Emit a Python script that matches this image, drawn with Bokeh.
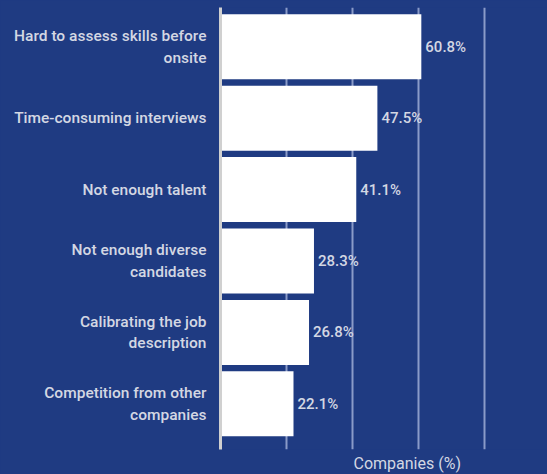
from bokeh.plotting import figure
from bokeh.models import Range1d, FixedTicker, Title, ColumnDataSource
from bokeh.core.properties import value
from bokeh.embed import file_html
from bokeh.resources import INLINE

categories = ["Hard to assess skills before\nonsite", "Time-consuming interviews",
              "Not enough talent", "Not enough diverse\ncandidates",
              "Calibrating the job\ndescription", "Competition from other\ncompanies"]
values = [60.8, 47.5, 41.1, 28.3, 26.8, 22.1]
value_labels = ["60.8%", "47.5%", "41.1%", "28.3%", "26.8%", "22.1%"]
x_ticks = [0, 20, 40, 60, 80]

BG = "#1f3b82"
TXT = "#d3d7e3"
FONT = "Roboto Medium"

idx = list(range(len(categories)))
src = ColumnDataSource(dict(y=idx, v=values, lab=value_labels))

p = figure(width=547, height=474, output_backend="svg", toolbar_location=None,
           x_range=Range1d(0, 99), y_range=Range1d(5.64, -0.55),
           min_border_left=220, min_border_right=0, min_border_top=7, min_border_bottom=0)
p.background_fill_color = BG
p.border_fill_color = BG
p.outline_line_color = None

p.hbar(y="y", right="v", left=0, height=0.91, source=src, fill_color="white", line_color=None)
p.text(x="v", y="y", text="lab", source=src, x_offset=4, text_align="left",
       text_baseline="middle", text_color=TXT, text_font_size="15px", text_font=value(FONT))

p.xgrid.ticker = FixedTicker(ticks=x_ticks)
p.xgrid.grid_line_color = "#8a9bc8"
p.xgrid.grid_line_width = 2
p.ygrid.grid_line_color = None

p.xaxis.visible = False

p.yaxis.ticker = FixedTicker(ticks=idx)
p.yaxis.major_label_overrides = {i: c for i, c in enumerate(categories)}
p.yaxis.major_label_text_color = TXT
p.yaxis.major_label_text_font = FONT
p.yaxis.major_label_text_font_size = "15.5px"
p.yaxis.major_label_text_align = "right"
p.yaxis.major_label_standoff = 8
p.yaxis.axis_line_color = "#d0d0d0"
p.yaxis.axis_line_width = 3
p.yaxis.major_tick_line_color = None
p.yaxis.minor_tick_line_color = None

title = Title(text="Companies (%)", align="left", offset=133, text_color=TXT,
              text_font="Roboto", text_font_size="16px", text_font_style="normal",
              standoff=4)
p.add_layout(title, "below")

html = file_html(p, INLINE)
html = html.replace("</head>", "<style>body{margin:0;background:%s;}</style></head>" % BG, 1)
open("out.html", "w").write(html)
